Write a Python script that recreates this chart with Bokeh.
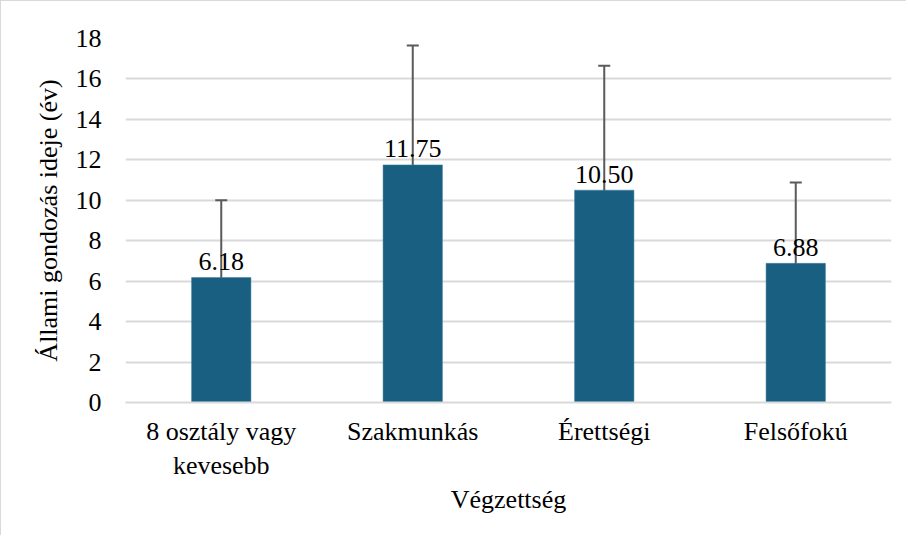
from bokeh.plotting import figure
from bokeh.models import ColumnDataSource, Whisker, TeeHead, FactorRange
from bokeh.core.properties import value
from bokeh.embed import file_html
from bokeh.resources import INLINE

categories = ["8 osztály vagy\nkevesebb", "Szakmunkás", "Érettségi", "Felsőfokú"]
means = [6.18, 11.75, 10.50, 6.88]
lower = [2.36, 5.85, 4.35, 2.88]
upper = [10.00, 17.65, 16.65, 10.88]
labels = ["%.2f" % v for v in means]

src = ColumnDataSource(dict(cat=categories, mean=means, lower=lower, upper=upper, label=labels))

FONT = "Liberation Serif"
GRID = "#d9d9d9"
ERR = "#5a5a5a"

p = figure(x_range=FactorRange(*categories), y_range=(0, 18),
           width=906, height=535, output_backend="svg", toolbar_location=None,
           min_border_left=124, min_border_top=37, min_border_right=16, min_border_bottom=134)
p.styles = {"border-left": "1.5px solid #d9d9d9", "border-top": "1.5px solid #d9d9d9"}
p.outline_line_color = None
p.x_range.range_padding = 0
p.x_range.group_padding = 0

p.vbar(x="cat", top="mean", width=0.31, source=src, fill_color="#185f82", line_color="#3f7e9c", line_width=0.5)

w = Whisker(base="cat", upper="upper", lower="lower", source=src, dimension="height",
            line_color=ERR, line_width=2)
w.upper_head = TeeHead(size=12, line_color=ERR, line_width=2)
w.lower_head = TeeHead(size=12, line_color=ERR, line_width=2)
p.add_layout(w)

p.text(x="cat", y="mean", text="label", source=src, text_align="center", text_baseline="alphabetic",
       y_offset=-16, text_font=value(FONT), text_font_style="normal", text_font_size="26px",
       text_color="#000000")

p.yaxis.ticker = [0, 2, 4, 6, 8, 10, 12, 14, 16, 18]
p.xgrid.grid_line_color = None
p.ygrid.grid_line_color = GRID
p.ygrid.grid_line_width = 2
p.yaxis.axis_line_color = None
p.xaxis.axis_line_color = GRID
p.xaxis.axis_line_width = 2
for ax in (p.xaxis, p.yaxis):
    ax.major_tick_line_color = None
    ax.minor_tick_line_color = None
    ax.major_label_text_font = FONT
    ax.major_label_text_font_style = "normal"
    ax.major_label_text_font_size = "26px"
    ax.major_label_text_color = "#000000"
    ax.axis_label_text_font = FONT
    ax.axis_label_text_font_size = "26px"
    ax.axis_label_text_font_style = "normal"
    ax.axis_label_text_color = "#000000"
p.yaxis.major_label_standoff = 18
p.xaxis.major_label_standoff = 8
p.yaxis.axis_label = "Állami gondozás ideje (év)"
p.xaxis.axis_label = "Végzettség"
p.yaxis.axis_label_standoff = 10
p.xaxis.axis_label_standoff = 2

open("out.html", "w").write(file_html(p, INLINE))
